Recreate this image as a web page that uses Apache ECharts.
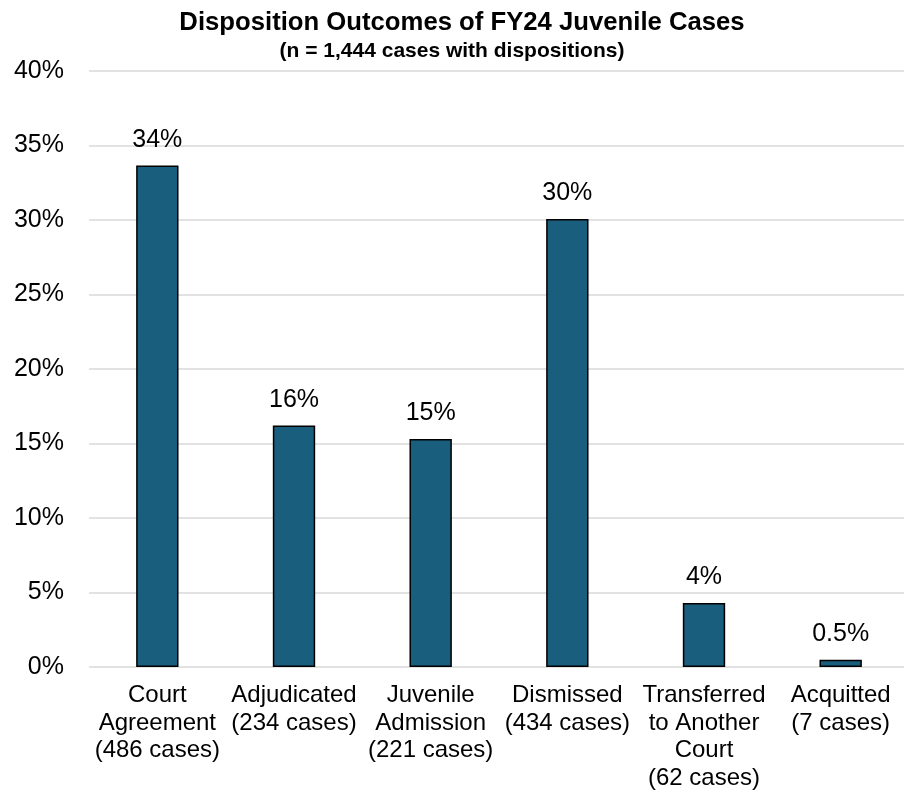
<!DOCTYPE html>
<html>
<head>
<meta charset="utf-8">
<script src="https://cdn.jsdelivr.net/npm/echarts@6/dist/echarts.min.js"></script>
<style>
html,body{margin:0;padding:0;background:#fff;}
#chart{width:904px;height:790px;}
</style>
</head>
<body>
<div id="chart"></div>
<script>
const categories = [
  "Court\nAgreement\n(486 cases)",
  "Adjudicated\n(234 cases)",
  "Juvenile\nAdmission\n(221 cases)",
  "Dismissed\n(434 cases)",
  "Transferred\nto Another\nCourt\n(62 cases)",
  "Acquitted\n(7 cases)"
];
const values = [33.66, 16.2, 15.3, 30.06, 4.29, 0.48];
const valueLabels = ["34%", "16%", "15%", "30%", "4%", "0.5%"];
const yTicks = [0, 5, 10, 15, 20, 25, 30, 35, 40];

const FONT = '"Liberation Sans", Arial, sans-serif';
const chart = echarts.init(document.getElementById('chart'));
chart.setOption({
  animation: false,
  backgroundColor: '#fff',
  title: [{
    text: 'Disposition Outcomes of FY24 Juvenile Cases',
    left: 457, textAlign: 'center', top: 5,
    textStyle: { fontFamily: FONT, fontSize: 25.7, fontWeight: 'bold', color: '#000' }
  }, {
    text: '(n = 1,444 cases with dispositions)',
    left: 447, textAlign: 'center', top: 36,
    textStyle: { fontFamily: FONT, fontSize: 21, fontWeight: 'bold', color: '#000' }
  }],
  grid: { left: 89, top: 71, width: 820, bottom: 123, containLabel: false, outerBoundsMode: 'none' },
  xAxis: {
    type: 'category',
    data: categories,
    axisLine: { show: false },
    axisTick: { show: false },
    axisLabel: { fontFamily: FONT, fontSize: 24, color: '#000', margin: 15, lineHeight: 27.5, interval: 0 }
  },
  yAxis: {
    type: 'value',
    min: 0, max: 40, interval: 5,
    axisLine: { show: false },
    axisTick: { show: false },
    splitLine: { lineStyle: { color: '#d9d9d9', width: 1.5 } },
    axisLabel: { fontFamily: FONT, fontSize: 25, color: '#000', margin: 25,
      formatter: v => yTicks.includes(v) ? v + '%' : '' }
  },
  series: [{
    type: 'bar',
    data: values,
    barWidth: '31%',
    itemStyle: { color: '#1a5e7e', borderColor: '#000', borderWidth: 1.5 },
    label: {
      show: true, position: 'top', distance: 13,
      fontFamily: FONT, fontSize: 25, color: '#000',
      formatter: p => valueLabels[p.dataIndex]
    }
  }]
});
</script>
</body>
</html>
